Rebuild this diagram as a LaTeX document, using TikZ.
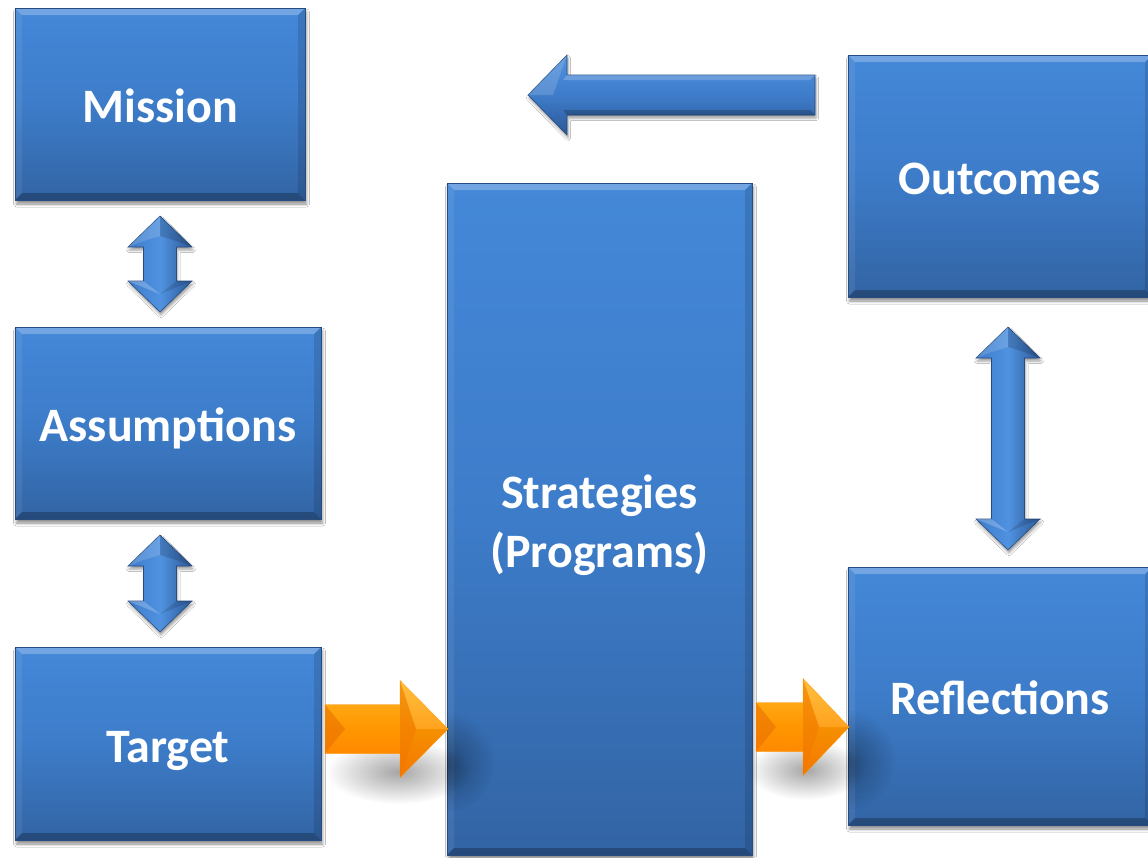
\documentclass[tikz,border=0pt]{standalone}
\usepackage{fontspec}
\setmainfont{Carlito}
\usetikzlibrary{calc,shadows.blur,fadings}

\definecolor{bxTop}{RGB}{68,136,216}
\definecolor{bxMid}{RGB}{61,124,201}
\definecolor{bxBot}{RGB}{50,100,164}
\definecolor{bxEdge}{RGB}{38,76,128}
\definecolor{arLight}{RGB}{80,146,224}
\definecolor{arMid}{RGB}{62,124,202}
\definecolor{arDark}{RGB}{44,88,150}
\definecolor{orTop}{RGB}{255,184,36}
\definecolor{orMid}{RGB}{255,150,0}
\definecolor{orBot}{RGB}{255,124,0}
\definecolor{orDeep}{RGB}{232,110,0}

\tikzfading[name=softspot, inner color=transparent!0, outer color=transparent!100]

\tikzset{
  box/.style={rectangle, inner sep=0pt, outer sep=0pt, text=white,
    font=\fontsize{48}{59}\selectfont\bfseries, align=center,
    top color=bxTop, bottom color=bxBot, middle color=bxMid,
    blur shadow={shadow xshift=1.5pt, shadow yshift=-4pt,
      shadow blur radius=3pt, shadow opacity=45}},
  onelabel/.style={text height=45pt, text depth=8pt},
  boxtext/.style={inner sep=0pt, text=white, align=center,
    font=\fontsize{48}{59}\selectfont\bfseries},
  hbluearrow/.style={top color=arLight, bottom color=arDark, middle color=arMid,
    draw=bxEdge, line width=.6pt,
    blur shadow={shadow xshift=1pt, shadow yshift=-3pt,
      shadow blur radius=2.5pt, shadow opacity=40}},
  vbluearrow/.style={left color=arMid, right color=arDark, middle color=arLight,
    draw=bxEdge, line width=.6pt,
    blur shadow={shadow xshift=1pt, shadow yshift=-3pt,
      shadow blur radius=2.5pt, shadow opacity=40}},
  orangearrow/.style={top color=orTop, bottom color=orBot, middle color=orMid,
    draw=orMid, line width=.4pt}
}

% bevelled rim of a box node
\newcommand{\bevel}[1]{%
  \fill[white, opacity=.25] (#1.north west) -- (#1.north east)
    -- ([shift={(-7,-7)}]#1.north east) -- ([shift={(7,-7)}]#1.north west) -- cycle;
  \fill[white, opacity=.07] (#1.north west) -- (#1.south west)
    -- ([shift={(7,7)}]#1.south west) -- ([shift={(7,-7)}]#1.north west) -- cycle;
  \fill[black, opacity=.12] (#1.north east) -- (#1.south east)
    -- ([shift={(-7,7)}]#1.south east) -- ([shift={(-7,-7)}]#1.north east) -- cycle;
  \fill[black, opacity=.25] (#1.south west) -- (#1.south east)
    -- ([shift={(-7,7)}]#1.south east) -- ([shift={(7,7)}]#1.south west) -- cycle;
  \draw[bxEdge, line width=.8pt] (#1.north west) rectangle (#1.south east);}

% corner points of a horizontal block arrow: prefix, tail, tip, shaft half, head half, head length
\newcommand{\hgeom}[6]{%
  \path let \p1=(#2), \p2=(#3), \n1={ifthenelse(\x2>\x1,1,-1)} in
    (\x1,\y2+#4pt) coordinate (#1-t1)
    (\x1,\y2-#4pt) coordinate (#1-t2)
    (\x1,\y2) coordinate (#1-tc)
    ({\x2-\n1*#6pt},\y2+#4pt) coordinate (#1-s1)
    ({\x2-\n1*#6pt},\y2-#4pt) coordinate (#1-s2)
    ({\x2-\n1*#6pt},\y2+#5pt) coordinate (#1-h1)
    ({\x2-\n1*#6pt},\y2-#5pt) coordinate (#1-h2)
    ({\x2-\n1*#6pt},\y2) coordinate (#1-hc)
    (\x2,\y2) coordinate (#1-tip);}
\newcommand{\hpath}[1]{(#1-t1) -- (#1-s1) -- (#1-h1) -- (#1-tip) -- (#1-h2) -- (#1-s2) -- (#1-t2) -- cycle}

% corner points of a vertical two-headed block arrow: prefix, top tip, bottom tip
\newcommand{\vgeom}[3]{%
  \path let \p1=(#2), \p2=(#3) in
    (\x1,\y1) coordinate (#1-t)
    (\x1+32pt,\y1-31pt) coordinate (#1-tr)
    (\x1+16.5pt,\y1-31pt) coordinate (#1-str)
    (\x1+16.5pt,\y2+31pt) coordinate (#1-sbr)
    (\x1+32pt,\y2+31pt) coordinate (#1-br)
    (\x1,\y2) coordinate (#1-b)
    (\x1-32pt,\y2+31pt) coordinate (#1-bl)
    (\x1-16.5pt,\y2+31pt) coordinate (#1-sbl)
    (\x1-16.5pt,\y1-31pt) coordinate (#1-stl)
    (\x1-32pt,\y1-31pt) coordinate (#1-tl);}
\newcommand{\vpath}[1]{(#1-t) -- (#1-tr) -- (#1-str) -- (#1-sbr) -- (#1-br) -- (#1-b)
  -- (#1-bl) -- (#1-sbl) -- (#1-stl) -- (#1-tl) -- cycle}

% light and dark facets on the heads of a vertical arrow
\newcommand{\vfacets}[1]{%
  \fill[white, opacity=.15] (#1-tl) -- (#1-t) -- ($(#1-t)+(0,-20)$) -- ($(#1-stl)+(0,6)$) -- cycle;
  \fill[black, opacity=.15] (#1-tr) -- (#1-t) -- ($(#1-t)+(0,-20)$) -- ($(#1-str)+(0,6)$) -- cycle;
  \fill[white, opacity=.22] (#1-bl) -- (#1-sbl) -- ($(#1-b)+(0,18)$) -- cycle;
  \fill[black, opacity=.12] (#1-br) -- (#1-sbr) -- ($(#1-b)+(0,18)$) -- cycle;}

% facets on an orange arrow
\newcommand{\ofacets}[1]{%
  \fill[orDeep, opacity=.55] (#1-t1) -- ($(#1-tc)+(20,0)$) -- (#1-t2) -- cycle;
  \fill[orDeep, opacity=.45] (#1-h1) -- ($(#1-hc)+(16,0)$) -- (#1-h2) -- cycle;
  \fill[white, opacity=.12] (#1-h1) -- (#1-tip) -- ($(#1-hc)+(16,0)$) -- cycle;
  \fill[black, opacity=.04] (#1-h2) -- (#1-tip) -- ($(#1-hc)+(16,0)$) -- cycle;}

\begin{document}
\begin{tikzpicture}[x=1pt,y=1pt]
\fill[white] (0,0) rectangle (1148,-857);
\useasboundingbox (0,0) rectangle (1148,-857);

% boxes
\node[box, onelabel, minimum width=290, minimum height=192] (mission) at (160,-104) {Mission};
\node[box, onelabel, minimum width=306, minimum height=192] (assump) at (168,-423) {Assumptions};
\node[box, onelabel, minimum width=306, minimum height=193] (target) at (168,-743.5) {Target};
\node[box, minimum width=305, minimum height=672] (strat) at (599.5,-519) {};
\node[box, onelabel, minimum width=304, minimum height=242] (outc) at (1000,-176) {Outcomes};
\node[box, onelabel, minimum width=304, minimum height=258] (refl) at (1000,-696) {Reflections};

\foreach \b in {mission,assump,target,strat,outc,refl} {\bevel{\b}}

\node[boxtext] (strattext) at ($(strat.center)+(0,-6)$) {Strategies\\(Programs)};

% soft shadows under the orange arrows and the shade they cast on the boxes
\fill[black, opacity=.35, path fading=softspot] (398,-772) ellipse (72 and 32);
\fill[black, opacity=.35, path fading=softspot] (806,-770) ellipse (58 and 30);
\begin{scope}
  \clip (strat.north west) rectangle (strat.south east);
  \fill[black, opacity=.32, path fading=softspot] (447,-762) ellipse (48 and 50);
\end{scope}
\begin{scope}
  \clip (refl.north west) rectangle (refl.south east);
  \fill[black, opacity=.32, path fading=softspot] (848,-760) ellipse (48 and 50);
\end{scope}

% two-headed blue arrows
\vgeom{ma}{$(mission.south)+(0,-16)$}{$(mission.south |- assump.north)+(0,15)$}
\path[vbluearrow] \vpath{ma};
\vfacets{ma}
\vgeom{at}{$(mission.south |- assump.south)+(0,-16)$}{$(mission.south |- target.north)+(0,15)$}
\path[vbluearrow] \vpath{at};
\vfacets{at}
\vgeom{or}{$(outc.south)+(8,-30)$}{$(refl.north)+(8,17)$}
\path[vbluearrow] \vpath{or};
\vfacets{or}

% feedback arrow leaving the outcomes
\coordinate (fb) at (528,-95);
\hgeom{fa}{$(outc.north west)+(-33,-40)$}{fb}{20}{40}{39}
\path[hbluearrow] \hpath{fa};
\fill[white, opacity=.2] (fa-t1) -- (fa-s1) -- ($(fa-s1)+(-4,-5)$) -- ($(fa-t1)+(-5,-5)$) -- cycle;
\fill[black, opacity=.2] (fa-t2) -- (fa-s2) -- ($(fa-s2)+(-4,5)$) -- ($(fa-t2)+(-5,5)$) -- cycle;
\fill[white, opacity=.15] (fa-h1) -- (fa-tip) -- ($(fa-hc)+(-14,0)$) -- cycle;

% orange flow arrows
\hgeom{o1}{$(target.east)+(4,14.5)$}{$(strat.west |- target.east)+(1,14.5)$}{24.5}{48.5}{48}
\path[orangearrow] \hpath{o1};
\ofacets{o1}
\hgeom{o2}{$(strat.east |- refl.west)+(4,-31)$}{$(refl.west)+(1,-31)$}{24.5}{48.5}{46}
\path[orangearrow] \hpath{o2};
\ofacets{o2}
\end{tikzpicture}
\end{document}
